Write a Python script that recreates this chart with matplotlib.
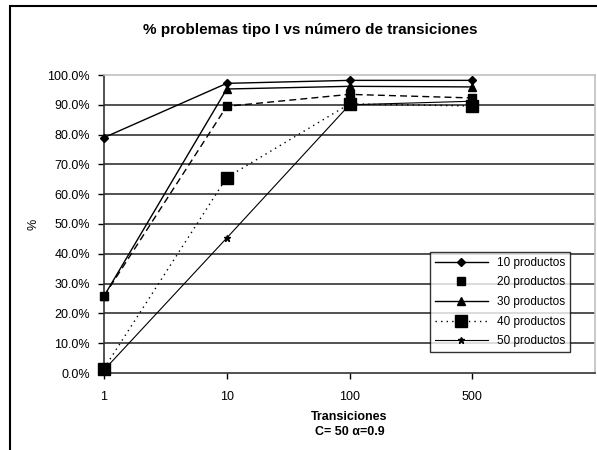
import matplotlib
matplotlib.use("Agg")
import matplotlib.pyplot as plt
from matplotlib.lines import Line2D
from matplotlib.patches import Rectangle
from matplotlib.ticker import FuncFormatter, MultipleLocator

plt.rcParams['font.family'] = ['Liberation Sans', 'DejaVu Sans']

transiciones = ["1", "10", "100", "500"]
p10 = [79.0, 97.2, 98.2, 98.2]
p20 = [25.8, 89.5, 93.5, 92.3]
p30 = [25.8, 95.3, 96.2, 96.0]
p40 = [1.5, 65.6, 90.3, 89.6]
p50 = [1.0, 45.3, 90.0, 91.2]

series = [
    ("10 productos", p10, dict(color='black', lw=1.0, ls='-', marker='D', ms=4.5)),
    ("20 productos", p20, dict(color='black', lw=1.0, ls=(0, (5, 3)), marker='s', ms=5.5)),
    ("30 productos", p30, dict(color='black', lw=1.0, ls='-', marker='^', ms=6)),
    ("40 productos", p40, dict(color='black', lw=1.0, ls=(0, (1, 3)), marker='s', ms=8.5)),
    ("50 productos", p50, dict(color='black', lw=0.8, ls='-', marker='*', ms=5)),
]

fig = plt.figure(figsize=(5.97, 4.5), dpi=100)
fig.patch.set_facecolor('white')

# outer chart frame
fig.add_artist(Rectangle((10 / 597, -0.05), 1.0, 1.05 - 6 / 450, transform=fig.transFigure,
                         fill=False, edgecolor='black', lw=1.5))

ax = fig.add_axes([104 / 597, 77 / 450, 491 / 597, 298 / 450])
x = list(range(len(transiciones)))
for name, vals, st in series:
    ax.plot(x, vals, clip_on=False, zorder=3, **st)

ax.set_xlim(0, 4)
ax.set_ylim(0, 100)
ax.yaxis.set_major_locator(MultipleLocator(10))
ax.yaxis.set_major_formatter(FuncFormatter(lambda v, p: f"{v:.1f}%"))
ax.set_xticks(x)
ax.set_xticklabels(transiciones)
ax.tick_params(axis='both', labelsize=9, length=4, width=1, direction='out', pad=6)
ax.tick_params(axis='x', pad=9)
for v in range(10, 100, 10):
    ax.axhline(v, color='#333333', lw=1.2, zorder=1)

for s in ['top', 'right']:
    ax.spines[s].set_color('#c0c0c0')
    ax.spines[s].set_linewidth(1.2)
for s in ['left', 'bottom']:
    ax.spines[s].set_color('#333333')
    ax.spines[s].set_linewidth(1.2)

ax.set_ylabel("%", fontsize=9, labelpad=6)
ax.set_xlabel("Transiciones\nC= 50 α=0.9", fontsize=9, fontweight='bold', labelpad=6,
              linespacing=1.3)

fig.text(310 / 597, 1 - 30 / 450, "% problemas tipo I vs número de transiciones",
         ha='center', va='center', fontsize=11, fontweight='bold')

handles = []
for name, vals, st in series:
    st2 = dict(st)
    if name == "20 productos":
        st2['ls'] = 'none'
    handles.append(Line2D([], [], **st2))
leg = ax.legend(handles, [s[0] for s in series], loc='upper left',
                bbox_to_anchor=((430 - 104) / 491, (373 - 252) / 298),
                fontsize=8.5, frameon=True, fancybox=False, edgecolor='black',
                handlelength=4.5, borderpad=0.4, labelspacing=0.65, borderaxespad=0)
leg.get_frame().set_linewidth(1.0)
leg.set_zorder(5)

fig.savefig("out.png", dpi=100, facecolor='white')
